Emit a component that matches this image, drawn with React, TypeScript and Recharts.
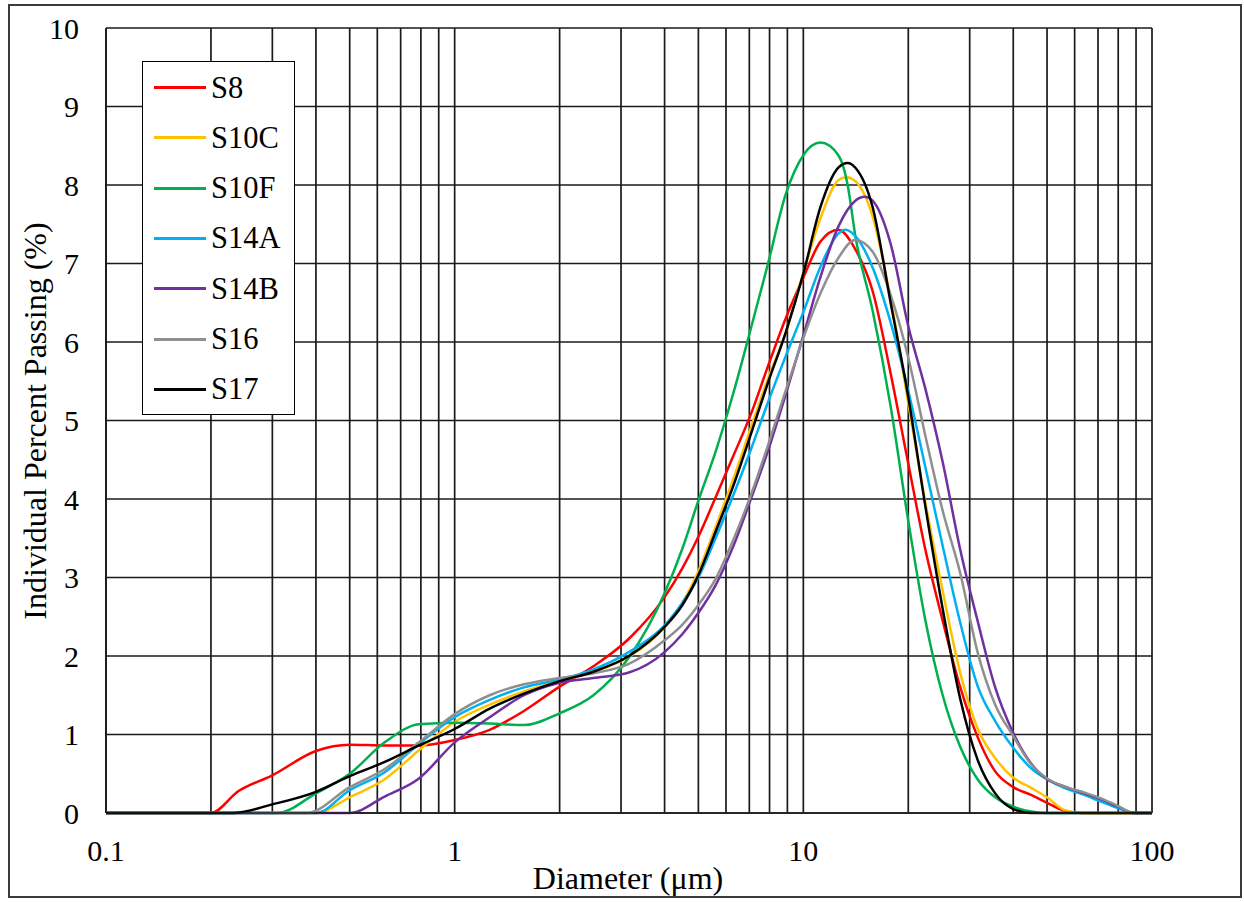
import { LineChart, Line, XAxis, YAxis, CartesianGrid } from 'recharts';

// Particle size distributions, [diameter µm, individual % passing]
const s8Points = [
  [0.1, 0], [0.2, 0], [0.24, 0.28], [0.3, 0.48], [0.4, 0.79], [0.5, 0.87], [0.63, 0.86],
  [0.79, 0.86], [1, 0.93], [1.26, 1.06], [1.58, 1.3], [2, 1.61], [2.5, 1.87], [3.16, 2.22],
  [4, 2.75], [4.5, 3.12], [5, 3.52], [5.6, 4.02], [6.3, 4.55], [7.1, 5.1], [7.9, 5.68],
  [8.9, 6.3], [10, 6.82], [11.2, 7.28], [12.6, 7.43], [14.1, 7.18], [15.8, 6.65],
  [17.8, 5.6], [20, 4.45], [22.4, 3.35], [25.1, 2.45], [28.2, 1.6], [31.6, 0.97],
  [35.5, 0.53], [40, 0.33], [45, 0.23], [50, 0.13], [56, 0.03], [63, 0], [100, 0],
];

const s10cPoints = [
  [0.1, 0], [0.4, 0], [0.5, 0.2], [0.63, 0.43], [0.79, 0.8], [1, 1.16], [1.26, 1.38],
  [1.58, 1.55], [2, 1.68], [2.5, 1.8], [3.16, 1.99], [4, 2.37], [4.5, 2.68], [5, 3.08],
  [5.6, 3.64], [6.3, 4.26], [7.1, 4.93], [7.9, 5.52], [8.9, 6.12], [10, 6.88], [11.2, 7.58],
  [12.6, 8.06], [13.3, 8.1], [14.1, 8.05], [15.8, 7.6], [17.8, 6.55], [20, 5.22],
  [22.4, 3.95], [25.1, 2.83], [28.2, 1.78], [31.6, 1.08], [35.5, 0.7], [40, 0.45],
  [45, 0.32], [50, 0.2], [56, 0.04], [63, 0], [100, 0],
];

const s10fPoints = [
  [0.1, 0], [0.31, 0], [0.4, 0.25], [0.5, 0.5], [0.63, 0.9], [0.79, 1.13], [1, 1.15],
  [1.26, 1.14], [1.58, 1.12], [2, 1.27], [2.5, 1.5], [3.16, 1.98], [4, 2.8], [4.5, 3.37],
  [5, 3.98], [5.6, 4.6], [6.3, 5.35], [7.1, 6.2], [7.9, 6.98], [8.9, 7.88], [10, 8.38],
  [11.2, 8.54], [12.6, 8.38], [13.4, 8.0], [14.1, 7.35], [15.8, 6.4], [17.8, 5.18],
  [20, 3.72], [22.4, 2.45], [25.1, 1.5], [28.2, 0.84], [31.6, 0.43], [35.5, 0.2],
  [40, 0.08], [45, 0.02], [50, 0], [100, 0],
];

const s14aPoints = [
  [0.1, 0], [0.4, 0], [0.5, 0.29], [0.63, 0.52], [0.79, 0.88], [1, 1.22], [1.26, 1.44],
  [1.58, 1.6], [2, 1.7], [2.5, 1.83], [3.16, 2.05], [4, 2.39], [4.5, 2.68], [5, 3.0],
  [5.6, 3.5], [6.3, 4.05], [7.1, 4.65], [7.9, 5.22], [8.9, 5.82], [10, 6.38], [11.2, 6.96],
  [12.6, 7.38], [13.2, 7.43], [14.1, 7.35], [15.8, 6.95], [17.8, 6.25], [20, 5.38],
  [22.4, 4.4], [25.1, 3.4], [28.2, 2.42], [31.6, 1.62], [35.5, 1.17], [40, 0.83],
  [45, 0.57], [50, 0.43], [56, 0.32], [63, 0.24], [71, 0.15], [79, 0.07], [89, 0], [100, 0],
];

const s14bPoints = [
  [0.1, 0], [0.5, 0], [0.63, 0.21], [0.79, 0.44], [1, 0.9], [1.26, 1.22], [1.58, 1.5],
  [2, 1.66], [2.5, 1.72], [3.16, 1.79], [4, 2.05], [4.5, 2.28], [5, 2.55], [5.6, 2.9],
  [6.3, 3.4], [7.1, 4.02], [7.9, 4.6], [8.9, 5.33], [10, 6.08], [11.2, 6.83], [12.6, 7.47],
  [14.1, 7.8], [15, 7.85], [15.8, 7.8], [17.8, 7.25], [20, 6.2], [22.4, 5.4], [25.1, 4.47],
  [28.2, 3.35], [31.6, 2.45], [35.5, 1.6], [40, 1.02], [45, 0.63], [50, 0.43], [56, 0.34],
  [63, 0.26], [71, 0.18], [79, 0.09], [89, 0], [100, 0],
];

const s16Points = [
  [0.1, 0], [0.376, 0], [0.5, 0.33], [0.63, 0.56], [0.79, 0.9], [1, 1.26], [1.26, 1.5],
  [1.58, 1.64], [2, 1.72], [2.5, 1.78], [3.16, 1.9], [4, 2.2], [4.5, 2.4], [5, 2.65],
  [5.6, 2.98], [6.3, 3.48], [7.1, 4.07], [7.9, 4.67], [8.9, 5.38], [10, 6.05], [11.2, 6.62],
  [12.6, 7.07], [14.1, 7.3], [15.8, 7.15], [17.8, 6.6], [20, 5.8], [22.4, 4.8], [25.1, 3.85],
  [28.2, 3.05], [31.6, 2.05], [35.5, 1.38], [40, 0.98], [45, 0.62], [50, 0.44], [56, 0.34],
  [63, 0.27], [71, 0.19], [79, 0.1], [89, 0], [100, 0],
];

const s17Points = [
  [0.1, 0], [0.231, 0], [0.3, 0.11], [0.4, 0.27], [0.5, 0.47], [0.63, 0.65], [0.79, 0.86],
  [1, 1.07], [1.26, 1.33], [1.58, 1.52], [2, 1.68], [2.5, 1.8], [3.16, 2.0], [4, 2.37],
  [4.5, 2.65], [5, 3.03], [5.6, 3.58], [6.3, 4.17], [7.1, 4.85], [7.9, 5.47], [8.9, 6.12],
  [10, 6.87], [11.2, 7.72], [12.6, 8.22], [13.4, 8.28], [14.1, 8.22], [15.8, 7.72],
  [17.8, 6.5], [20, 5.3], [22.4, 3.9], [25.1, 2.6], [28.2, 1.45], [31.6, 0.68],
  [35.5, 0.25], [40, 0.05], [45, 0], [100, 0],
];

const seriesNames = ['S8', 'S10C', 'S10F', 'S14A', 'S14B', 'S16', 'S17'];
const seriesColors = ['#FF0000', '#FFC000', '#00B050', '#00B0F0', '#7030A0', '#8F8F8F', '#000000'];
const seriesPoints = [s8Points, s10cPoints, s10fPoints, s14aPoints, s14bPoints, s16Points, s17Points];

const xTicks = [
  0.1, 0.2, 0.3, 0.4, 0.5, 0.6, 0.7, 0.8, 0.9,
  1, 2, 3, 4, 5, 6, 7, 8, 9,
  10, 20, 30, 40, 50, 60, 70, 80, 90, 100,
];
const xLabels = ['0.1', '1', '10', '100'];
const yTicks = [0, 1, 2, 3, 4, 5, 6, 7, 8, 9, 10];

const FONT = '"Liberation Serif", "Times New Roman", serif';

const XTick = (props: any) => {
  const { x, y, payload } = props;
  const label = String(payload.value);
  if (!xLabels.includes(label)) return null;
  return (
    <text x={x} y={y + 48} textAnchor="middle" fontFamily={FONT} fontSize={30} fill="#000">
      {label}
    </text>
  );
};

const YTick = (props: any) => {
  const { x, y, payload } = props;
  return (
    <text x={x} y={y} dy="0.35em" textAnchor="end" fontFamily={FONT} fontSize={30} fill="#000">
      {payload.value}
    </text>
  );
};

export default function App() {
  return (
    <div style={{ position: 'absolute', left: 0, top: 0, width: 1244, height: 902, background: '#fff', fontFamily: FONT }}>
      {/* outer frame */}
      <div style={{ position: 'absolute', left: 8, top: 4, width: 1234, height: 894, border: '2px solid #3a3a3a', boxSizing: 'border-box' }} />

      <LineChart
        width={1244}
        height={902}
        margin={{ top: 28, right: 92, bottom: 29, left: 0 }}
        style={{ position: 'absolute', left: 0, top: 0 }}
      >
        <CartesianGrid stroke="#1a1a1a" strokeWidth={1.7} />
        <XAxis
          dataKey="d"
          type="number"
          scale="log"
          domain={[0.1, 100]}
          ticks={xTicks}
          allowDataOverflow
          height={60}
          tickSize={0}
          tickMargin={0}
          tickLine={false}
          axisLine={{ stroke: '#1a1a1a', strokeWidth: 1.7 }}
          tick={<XTick />}
          interval={0}
        />
        <YAxis
          type="number"
          domain={[0, 10]}
          ticks={yTicks}
          width={106}
          tickSize={0}
          tickMargin={27}
          tickLine={false}
          axisLine={{ stroke: '#1a1a1a', strokeWidth: 1.7 }}
          tick={<YTick />}
          interval={0}
        />
        {seriesNames.map((name, i) => (
          <Line
            key={name}
            name={name}
            data={seriesPoints[i].map(([d, v]) => ({ d, v }))}
            dataKey="v"
            type="monotone"
            stroke={seriesColors[i]}
            strokeWidth={2.5}
            dot={false}
            activeDot={false}
            isAnimationActive={false}
          />
        ))}
      </LineChart>

      {/* axis titles */}
      <div style={{ position: 'absolute', left: 328, top: 858, width: 600, height: 40, lineHeight: '40px', textAlign: 'center', fontSize: 32 }}>
        Diameter (μm)
      </div>
      <div
        style={{
          position: 'absolute',
          left: 35 - 300,
          top: 421 - 20,
          width: 600,
          height: 40,
          lineHeight: '40px',
          textAlign: 'center',
          fontSize: 32,
          transform: 'rotate(-90deg)',
        }}
      >
        Individual Percent Passing (%)
      </div>

      {/* legend */}
      <div style={{ position: 'absolute', left: 142, top: 61, width: 153, height: 354, border: '1.5px solid #000', background: '#fff', boxSizing: 'border-box' }}>
        {seriesNames.map((name, i) => {
          const cy = 25.5 + i * 50.3;
          return (
            <div key={name}>
              <div style={{ position: 'absolute', left: 11, top: cy - 1.5, width: 52, height: 3, background: seriesColors[i] }} />
              <div style={{ position: 'absolute', left: 68, top: cy - 20, height: 40, lineHeight: '40px', fontSize: 30.5, whiteSpace: 'nowrap' }}>
                {name}
              </div>
            </div>
          );
        })}
      </div>
    </div>
  );
}
